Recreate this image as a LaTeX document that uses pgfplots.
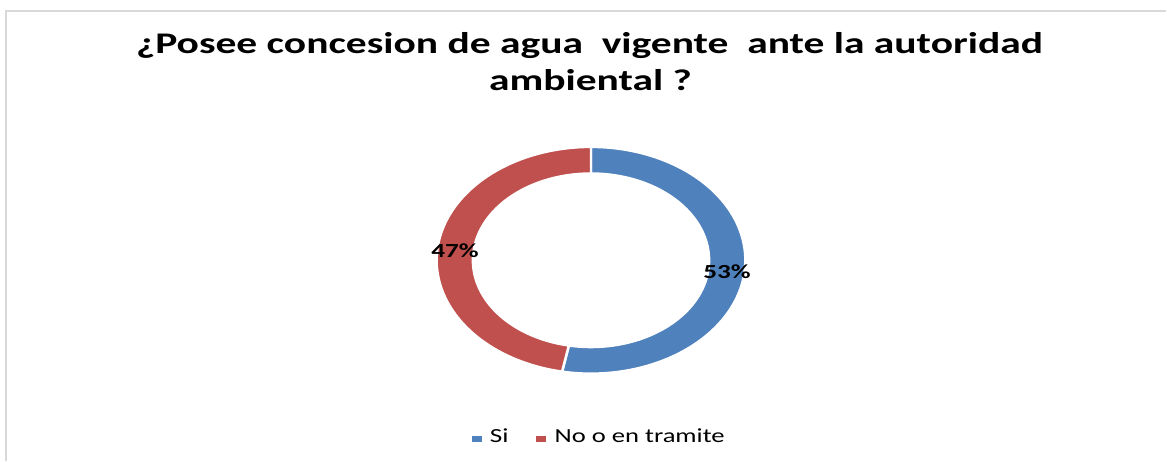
\documentclass[border=0pt]{standalone}
\usepackage{fontspec}
\setmainfont{Carlito}
\usepackage{graphicx}
\usepackage{pgfplots}
\usepackage{pgfplotstable}
\pgfplotsset{compat=1.18}

\definecolor{siblue}{HTML}{4F81BD}
\definecolor{nored}{HTML}{C0504D}
\definecolor{framegray}{HTML}{D9D9D9}

\pgfplotstableread{
label value
Si    53
No    47
}\shares
\pgfplotstablegetelem{0}{value}\of\shares \let\vSi\pgfplotsretval
\pgfplotstablegetelem{1}{value}\of\shares \let\vNo\pgfplotsretval

% ring geometry (pixels), slices clockwise from 12 o'clock
\def\cx{591.5}\def\cy{260.5}\def\rx{154.5}\def\ry{113.5}\def\k{0.765}
\pgfmathsetmacro\aSi{90}
\pgfmathsetmacro\bSi{90-3.6*\vSi}
\pgfmathsetmacro\bNo{\bSi-3.6*\vNo}
\pgfmathsetmacro\mSi{(\aSi+\bSi)/2}
\pgfmathsetmacro\mNo{(\bSi+\bNo)/2}

\newcommand\xs{\scalebox{1.36}[1]}

\begin{document}
\begin{tikzpicture}
\begin{axis}[
    width=1167pt, height=461pt, scale only axis,
    xmin=0, xmax=1167, ymin=0, ymax=461, y dir=reverse,
    hide axis, clip=false,
]
\path (0,0) rectangle (1167,461);
\draw[framegray, line width=2pt] (6,461) -- (6,11) -- (1167,11);

% Si
\addplot[fill=siblue, draw=white, line width=2.5pt, domain=0:2, samples=201, variable=\t]
  ({\cx + \rx*(\t<1.005 ? 1 : \k)*cos(\t<1.005 ? (\aSi)+((\bSi)-(\aSi))*\t : (\bSi)+((\aSi)-(\bSi))*(\t-1.01)/0.99)},
   {\cy - \ry*(\t<1.005 ? 1 : \k)*sin(\t<1.005 ? (\aSi)+((\bSi)-(\aSi))*\t : (\bSi)+((\aSi)-(\bSi))*(\t-1.01)/0.99)}) -- cycle;
% No o en tramite
\addplot[fill=nored, draw=white, line width=2.5pt, domain=0:2, samples=201, variable=\t]
  ({\cx + \rx*(\t<1.005 ? 1 : \k)*cos(\t<1.005 ? (\bSi)+((\bNo)-(\bSi))*\t : (\bNo)+((\bSi)-(\bNo))*(\t-1.01)/0.99)},
   {\cy - \ry*(\t<1.005 ? 1 : \k)*sin(\t<1.005 ? (\bSi)+((\bNo)-(\bSi))*\t : (\bNo)+((\bSi)-(\bNo))*(\t-1.01)/0.99)}) -- cycle;

% data labels
\pgfmathsetmacro\lxSi{\cx+0.885*\rx*cos(\mSi)}
\pgfmathsetmacro\lySi{\cy-0.885*\ry*sin(\mSi)+2}
\pgfmathsetmacro\lxNo{\cx+0.885*\rx*cos(\mNo)}
\pgfmathsetmacro\lyNo{\cy-0.885*\ry*sin(\mNo)}
\node[font=\fontsize{20}{24}\selectfont\bfseries, inner sep=0pt] at (\lxSi,\lySi) {\xs{\vSi\%}};
\node[font=\fontsize{20}{24}\selectfont\bfseries, inner sep=0pt] at (\lxNo,\lyNo) {\xs{\vNo\%}};

% title
\node[anchor=base, font=\fontsize{30}{36}\selectfont\bfseries, inner sep=0pt] at (590,54)
  {\scalebox{1.385}[1]{¿Posee concesion de agua\ \ vigente\ \ ante la autoridad}};
\node[anchor=base, font=\fontsize{30}{36}\selectfont\bfseries, inner sep=0pt] at (591,91)
  {\scalebox{1.385}[1]{ambiental ?}};

% legend
\fill[siblue] (472,436) rectangle (482,442);
\node[anchor=base west, font=\fontsize{20}{24}\selectfont, inner sep=0pt] at (490,443) {\xs{Si}};
\fill[nored] (536,436) rectangle (546,442);
\node[anchor=base west, font=\fontsize{20}{24}\selectfont, inner sep=0pt] at (555,443) {\scalebox{1.33}[1]{No o en tramite}};
\end{axis}
\end{tikzpicture}
\end{document}
